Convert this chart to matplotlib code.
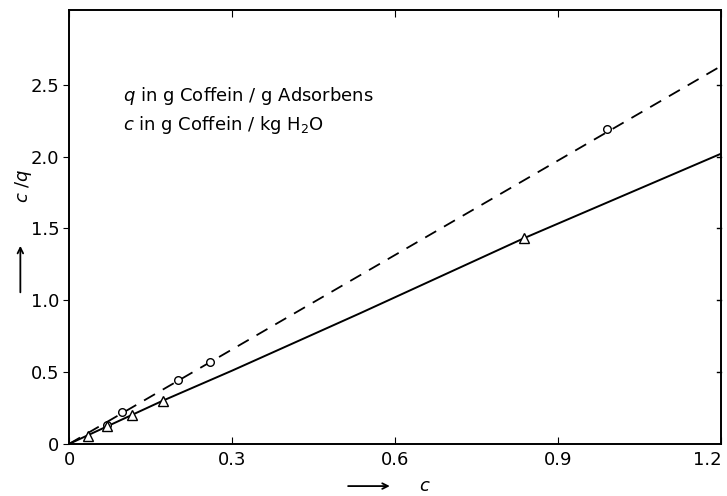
import matplotlib
matplotlib.use("Agg")
import matplotlib.pyplot as plt

# measured points
circ_c = [0.07, 0.097, 0.20, 0.26, 0.99]
circ_cq = [0.135, 0.22, 0.446, 0.567, 2.19]
tri_c = [0.034, 0.069, 0.115, 0.172, 0.838]
tri_cq = [0.058, 0.125, 0.20, 0.30, 1.433]

# fitted lines
dash_c = [0.0, 1.2]
dash_cq = [0.0, 2.63]
solid_c = [0.0, 0.172, 0.30, 0.536, 0.838, 1.2]
solid_cq = [0.0, 0.30, 0.51, 0.91, 1.433, 2.02]

xticks = [0, 0.3, 0.6, 0.9, 1.2]
xlabels = ["0", "0.3", "0.6", "0.9", "1.2"]
yticks = [0, 0.5, 1.0, 1.5, 2.0, 2.5]
ylabels = ["0", "0.5", "1.0", "1.5", "2.0", "2.5"]

plt.rcParams['font.family'] = ['DejaVu Sans']
fig = plt.figure(figsize=(7.27, 4.96), dpi=100)
ax = fig.add_axes([0.095, 0.105, 0.897, 0.875])

ax.plot(dash_c, dash_cq, color='black', lw=1.3, dashes=(7, 5))
ax.plot(solid_c, solid_cq, color='black', lw=1.4)
ax.plot(circ_c, circ_cq, 'o', mfc='white', mec='black', ms=5.5, mew=1.0)
ax.plot(tri_c, tri_cq, '^', mfc='white', mec='black', ms=6.5, mew=1.0)

ax.set_xlim(0, 1.2)
ax.set_ylim(0, 3.02)
ax.set_xticks(xticks)
ax.set_xticklabels(xlabels)
ax.set_yticks(yticks)
ax.set_yticklabels(ylabels)
ax.tick_params(axis='x', direction='in', top=True, length=5, labelsize=13, pad=5)
ax.tick_params(axis='y', direction='out', right=False, length=4, labelsize=13, pad=3)
lab = ax.get_xticklabels()[-1]
lab.set_ha('right')
lab.set_x(1.2 + 0.01)
for y in yticks[1:]:
    ax.plot([1.2 - 0.008, 1.2], [y, y], color='black', lw=1, clip_on=False)
for s in ax.spines.values():
    s.set_linewidth(1.4)

ax.text(0.1, 2.42, r"$q$ in g Coffein / g Adsorbens", fontsize=13, va='center')
ax.text(0.1, 2.22, r"$c$ in g Coffein / kg H$_2$O", fontsize=13, va='center')

# axis labels with arrows
fig.text(0.032, 0.625, r"$c$ /$q$", rotation=90, fontsize=13, ha='center', va='center')
ax.annotate("", xy=(0.028, 0.51), xytext=(0.028, 0.405), xycoords='figure fraction',
            textcoords='figure fraction', annotation_clip=False,
            arrowprops=dict(arrowstyle='->', lw=1.3, color='black'))
ax.annotate("", xy=(0.54, 0.02), xytext=(0.475, 0.02), xycoords='figure fraction',
            textcoords='figure fraction', annotation_clip=False,
            arrowprops=dict(arrowstyle='->', lw=1.3, color='black'))
fig.text(0.585, 0.02, r"$c$", fontsize=13, ha='center', va='center')

fig.savefig("out.png", dpi=100)
